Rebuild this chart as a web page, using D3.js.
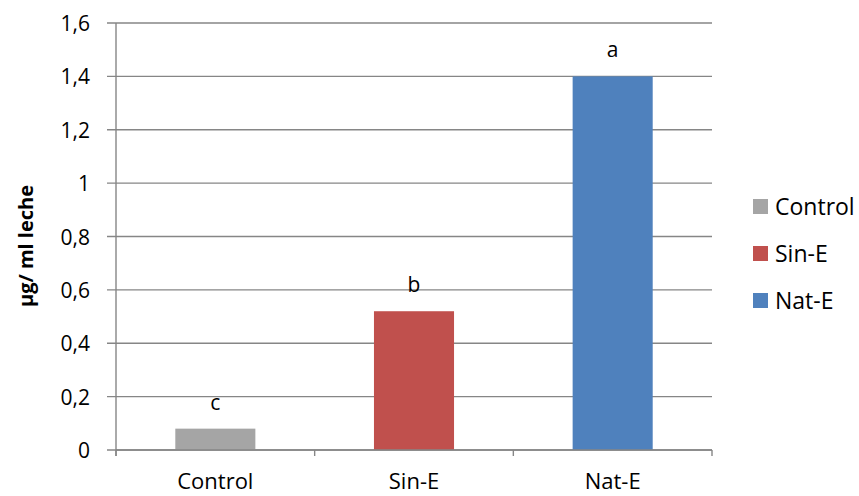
<!DOCTYPE html>
<html>
<head>
<meta charset="utf-8">
<script src="https://cdn.jsdelivr.net/npm/d3@7"></script>
<style>
  html, body { margin: 0; padding: 0; background: #ffffff; }
  svg { display: block; font-family: "Open Sans", sans-serif; }
</style>
</head>
<body>
<svg id="chart" width="859" height="496"></svg>
<script>
// Treatment groups, measured concentration and significance letters
const categories = ["Control", "Sin-E", "Nat-E"];
const values = [0.08, 0.52, 1.40];
const letters = ["c", "b", "a"];
const colors = ["#A5A5A5", "#C0504D", "#4F81BD"];
const yTicks = [0, 0.2, 0.4, 0.6, 0.8, 1.0, 1.2, 1.4, 1.6];
const yTitle = "µg/ ml leche";

const svg = d3.select("#chart");
const plot = { left: 116, right: 712, top: 23, bottom: 450 };
const gridColor = "#868686";

const x = d3.scaleBand().domain(categories).range([plot.left, plot.right]).padding(0);
const y = d3.scaleLinear().domain([0, 1.6]).range([plot.bottom, plot.top]);
const barW = x.bandwidth() * 0.403;
const fmt = v => d3.format(".1~f")(v).replace(".", ",");

// Horizontal gridlines with short ticks left of the axis
svg.append("g").selectAll("line").data(yTicks).join("line")
  .attr("x1", plot.left - 9).attr("x2", plot.right)
  .attr("y1", d => y(d)).attr("y2", d => y(d))
  .attr("stroke", gridColor).attr("stroke-width", 1.4);

// Y tick labels
svg.append("g").selectAll("text").data(yTicks).join("text")
  .attr("x", 90).attr("y", d => y(d))
  .attr("text-anchor", "end").attr("dominant-baseline", "central")
  .attr("font-size", 21).attr("fill", "#000")
  .text(fmt);

// Y axis line
svg.append("line")
  .attr("x1", plot.left).attr("x2", plot.left)
  .attr("y1", plot.top).attr("y2", plot.bottom + 6)
  .attr("stroke", gridColor).attr("stroke-width", 1.4);

// X axis boundary ticks
const bounds = categories.map(c => x(c)).concat([x(categories[categories.length - 1]) + x.bandwidth()]);
svg.append("g").selectAll("line").data(bounds).join("line")
  .attr("x1", d => d).attr("x2", d => d)
  .attr("y1", plot.bottom).attr("y2", plot.bottom + 6)
  .attr("stroke", gridColor).attr("stroke-width", 1.4);

// Bars
svg.append("g").selectAll("rect").data(categories).join("rect")
  .attr("x", (d) => x(d) + x.bandwidth() / 2 - barW / 2)
  .attr("width", barW)
  .attr("y", (d, i) => y(values[i]))
  .attr("height", (d, i) => y(0) - y(values[i]))
  .attr("fill", (d, i) => colors[i]);

// Redraw the baseline over the bars
svg.append("line")
  .attr("x1", plot.left).attr("x2", plot.right)
  .attr("y1", y(0)).attr("y2", y(0))
  .attr("stroke", gridColor).attr("stroke-width", 1.4);

// Significance letters above the bars
svg.append("g").selectAll("text").data(categories).join("text")
  .attr("x", d => x(d) + x.bandwidth() / 2)
  .attr("y", (d, i) => y(values[i]) - 19)
  .attr("text-anchor", "middle")
  .attr("font-size", 21).attr("fill", "#000")
  .text((d, i) => letters[i]);

// Category labels
svg.append("g").selectAll("text").data(categories).join("text")
  .attr("x", d => x(d) + x.bandwidth() / 2)
  .attr("y", 489)
  .attr("text-anchor", "middle")
  .attr("font-size", 22).attr("fill", "#000")
  .text(d => d);

// Y axis title
svg.append("text")
  .attr("transform", "translate(33,246) rotate(-90)")
  .attr("text-anchor", "middle")
  .attr("font-size", 20).attr("font-weight", "bold").attr("fill", "#000")
  .text(yTitle);

// Legend
const legend = svg.append("g").selectAll("g").data(categories).join("g")
  .attr("transform", (d, i) => `translate(753,${206 + i * 47})`);
legend.append("rect")
  .attr("x", 0).attr("y", -7).attr("width", 15).attr("height", 15)
  .attr("fill", (d, i) => colors[i]);
legend.append("text")
  .attr("x", 22).attr("y", 0)
  .attr("dominant-baseline", "central")
  .attr("font-size", 23).attr("fill", "#000")
  .text(d => d);
</script>
</body>
</html>
